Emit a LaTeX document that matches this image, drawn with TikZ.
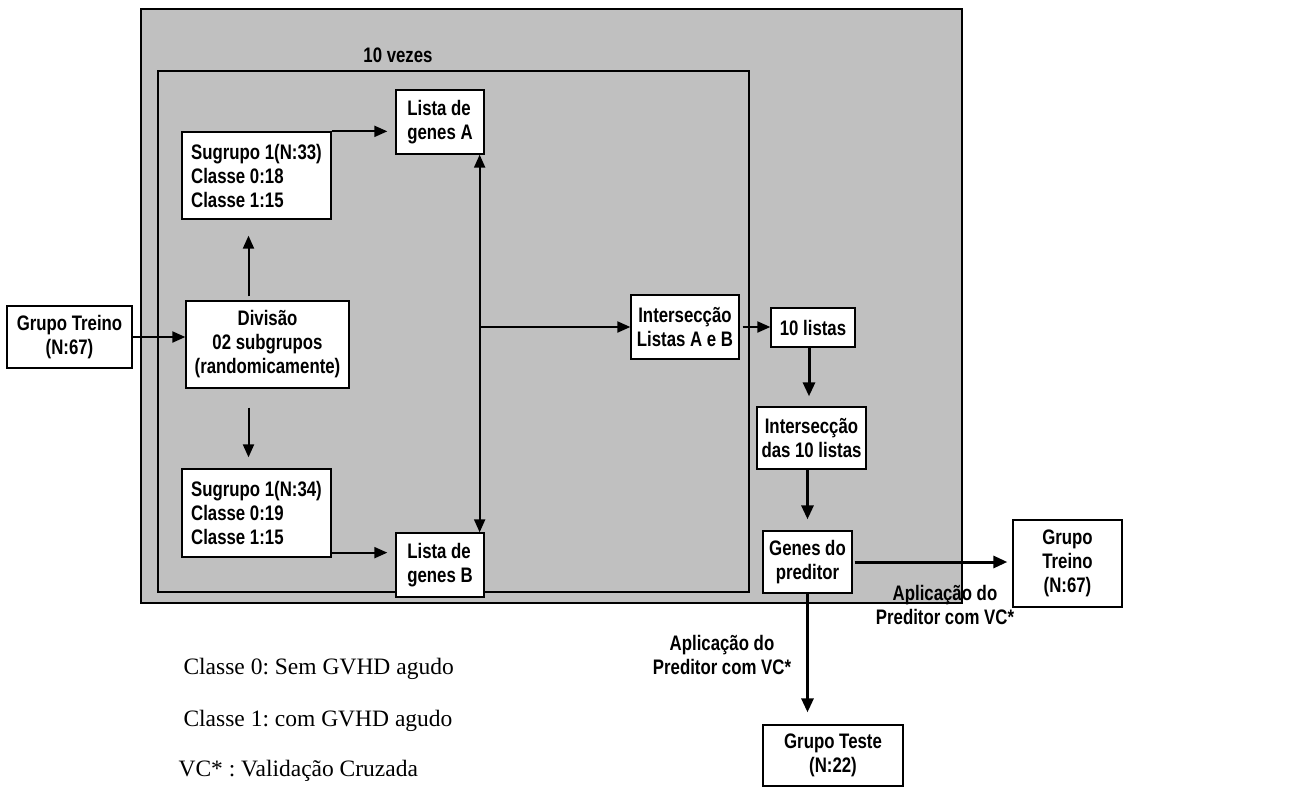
\documentclass[tikz,border=0pt]{standalone}
\usepackage{fontspec}
\newfontfamily\boxfont{Liberation Sans}[FakeStretch=0.8]
\newfontfamily\notefont{Liberation Serif}
\usetikzlibrary{arrows.meta}
\definecolor{panelgray}{RGB}{192,192,192}
\frenchspacing

\begin{document}
\begin{tikzpicture}[x=1pt,y=-1pt,
    box/.style={draw,fill=white,line width=1.3pt,inner sep=3pt,align=center,
        font=\boxfont\bfseries\fontsize{21}{24}\selectfont},
    lbl/.style={align=center,font=\boxfont\bfseries\fontsize{21}{24}\selectfont},
    note/.style={anchor=west,font=\notefont\fontsize{23.5}{26}\selectfont},
    arr/.style={line width=2pt,-{Triangle[length=13pt,width=11pt]}},
    bigarr/.style={line width=3pt,-{Triangle[length=14pt,width=12pt]}}]
    \useasboundingbox (0,0) rectangle (1301,787);
    % panels
    \filldraw[fill=panelgray,line width=1.6pt] (141,9) rectangle (962,603);
    \draw[line width=1.3pt] (158,71) rectangle (749,592);
    \node[lbl] (vezes) at (398,55) {10 vezes};

    \node[box,minimum width=125pt,minimum height=62pt] (treinoA) at (69.5,337) {Grupo Treino\\(N:67)};
    \node[box,minimum width=163pt,minimum height=87pt] (divisao) at (267.5,344.5) {Divisão\\02 subgrupos\\(randomicamente)};
    \node[box,align=left,minimum width=149pt,minimum height=87pt] (subA) at (256.5,175.5) {Sugrupo 1(N:33)\\Classe 0:18\\Classe 1:15};
    \node[box,align=left,minimum width=149pt,minimum height=88pt] (subB) at (256.5,513) {Sugrupo 1(N:34)\\Classe 0:19\\Classe 1:15};
    \node[box,align=left,minimum width=88pt,minimum height=64pt] (listaA) at (440,122) {Lista de\\genes A};
    \node[box,align=left,minimum width=88pt,minimum height=64pt] (listaB) at (440,565) {Lista de\\genes B};
    \node[box,minimum width=108pt,minimum height=64pt] (interAB) at (685,327) {Intersecção\\Listas A e B};
    \node[box,minimum width=84pt,minimum height=39pt] (dez) at (813,327.5) {10 listas};
    \node[box,minimum width=109pt,minimum height=62pt] (interDez) at (811.5,438) {Intersecção\\das 10 listas};
    \node[box,minimum width=89pt,minimum height=62pt] (genes) at (807.5,562) {Genes do\\preditor};
    \node[box,minimum width=109pt,minimum height=87pt] (treinoB) at (1067.5,563.5) {Grupo\\Treino\\(N:67)};
    \node[box,minimum width=140pt,minimum height=61pt] (teste) at (833,755.5) {Grupo Teste\\(N:22)};

    \node[lbl] (aplicA) at (945,605) {Aplicação do\\Preditor com VC*};
    \node[lbl] (aplicB) at (722,655) {Aplicação do\\Preditor com VC*};

    \node[note] (classe0) at (180,669) {Classe 0: Sem GVHD agudo};
    \node[note] (classe1) at (180,721) {Classe 1: com GVHD agudo};
    \node[note] (vc) at (175,771) {VC* : Validação Cruzada};

    \coordinate (junc) at ([xshift=-5pt]listaA.south east |- interAB.west);

    \draw[arr] (treinoA.east) -- (treinoA.east -| divisao.west);
    \draw[arr,shorten <=4pt,shorten >=16pt] ([xshift=-8pt]subA.south |- divisao.north) -- ([xshift=-8pt]subA.south);
    \draw[arr,shorten <=19pt,shorten >=11pt] ([xshift=-8pt]subB.north |- divisao.south) -- ([xshift=-8pt]subB.north);
    \draw[arr,shorten >=8pt] (subA.north east) -- (subA.north east -| listaA.west);
    \draw[arr,shorten >=8pt] ([yshift=5pt]subB.south east) -- ([yshift=5pt]subB.south east -| listaB.west);
    \draw[line width=2pt,{Triangle[length=13pt,width=11pt]}-{Triangle[length=13pt,width=11pt]}]
        ([xshift=-5pt]listaA.south east) -- ([xshift=-5pt]listaB.north east);
    \draw[arr] (junc) -- (interAB.west);
    \draw[arr,shorten <=3pt] (interAB.east) -- (interAB.east -| dez.west);
    \draw[bigarr,shorten >=10pt] ([xshift=-4pt]dez.south) -- ([xshift=-4pt]dez.south |- interDez.north);
    \draw[bigarr,shorten >=11pt] (genes.north |- interDez.south) -- (genes.north);
    \draw[bigarr,shorten <=2pt,shorten >=5pt] (genes.east) -- (genes.east -| treinoB.west);
    \draw[bigarr,shorten >=12pt] (genes.south) -- (genes.south |- teste.north);
\end{tikzpicture}
\end{document}
